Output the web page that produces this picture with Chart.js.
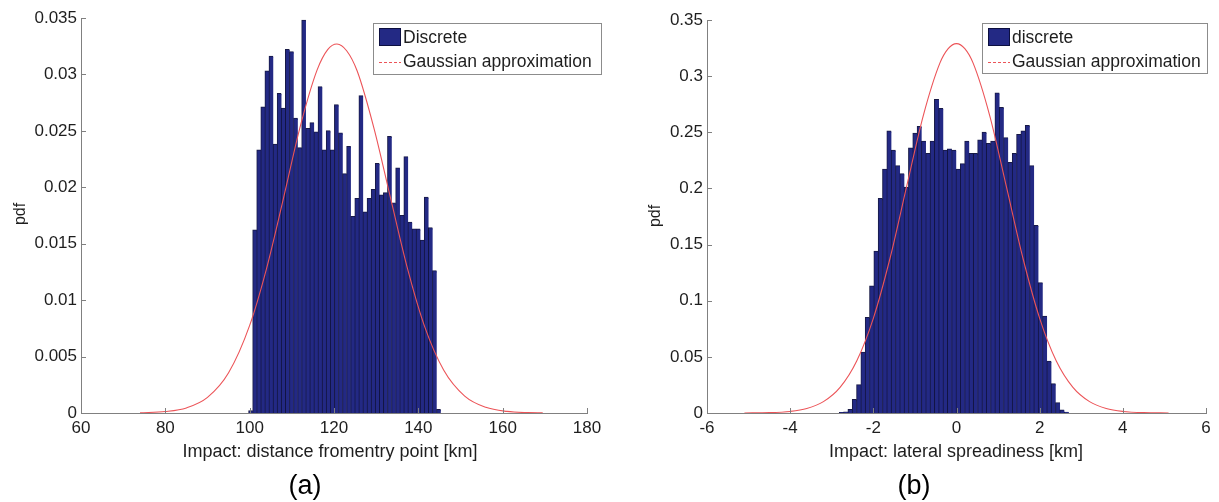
<!DOCTYPE html>
<html>
<head>
<meta charset="utf-8">
<script src="https://cdn.jsdelivr.net/npm/chart.js@4.4.1/dist/chart.umd.min.js"></script>
<style>
  html, body { margin: 0; padding: 0; background: #fff; }
  #wrap { position: relative; width: 1219px; height: 502px; }
  #wrap canvas { position: absolute; top: 0; }
</style>
</head>
<body>
<div id="wrap">
  <canvas id="distChart" width="609" height="502" style="left:0"></canvas>
  <canvas id="lateralChart" width="610" height="502" style="left:609px"></canvas>
</div>
<script>
// ---- (a) impact: distance from entry point ----
const distBins = [100.28, 101.25, 102.21, 103.18, 104.15, 105.12, 106.09, 107.06, 108.03, 109.00,
    109.97, 110.94, 111.91, 112.87, 113.84, 114.81, 115.78, 116.75, 117.72, 118.69,
    119.66, 120.63, 121.60, 122.56, 123.53, 124.50, 125.47, 126.44, 127.41, 128.38,
    129.35, 130.32, 131.29, 132.25, 133.22, 134.19, 135.16, 136.13, 137.10, 138.07,
    139.04, 140.01, 140.98, 141.94, 142.91, 143.88, 144.85];
const distPdf = [0.0002, 0.0162, 0.0233, 0.0271, 0.0303, 0.0316, 0.0238, 0.0283, 0.0270, 0.0322,
    0.0320, 0.0261, 0.0235, 0.0348, 0.0252, 0.0257, 0.0249, 0.0289, 0.0233, 0.0250,
    0.0233, 0.0273, 0.0248, 0.0212, 0.0236, 0.0174, 0.0190, 0.0281, 0.0178, 0.0190,
    0.0198, 0.0221, 0.0193, 0.0195, 0.0245, 0.0186, 0.0217, 0.0175, 0.0227, 0.0169,
    0.0163, 0.0163, 0.0153, 0.0191, 0.0164, 0.0126, 0.0003];
const distFitX = [74, 80, 85, 90, 95, 100, 104, 108, 112, 116, 118.5, 120.7,
    123, 125.5, 129.5, 133.5, 137.5, 141.5, 146, 151, 156, 161, 166, 169.5];
const distFitY = [0.00002, 0.00013, 0.00045, 0.00138, 0.00356, 0.00776, 0.0128, 0.0190,
    0.0254, 0.0304, 0.0322, 0.0327, 0.0321, 0.0303, 0.0252, 0.0189, 0.0127, 0.00765,
    0.00381, 0.0015, 0.0005, 0.00014, 0.00003, 0.00001];
const distTicks = [60, 80, 100, 120, 140, 160, 180];
const distPdfTicks = [0, 0.005, 0.01, 0.015, 0.02, 0.025, 0.03, 0.035];

// ---- (b) impact: lateral spreadiness ----
const latBins = [-2.762, -2.658, -2.554, -2.450, -2.346, -2.242, -2.138, -2.034, -1.930, -1.826,
    -1.722, -1.618, -1.514, -1.410, -1.306, -1.202, -1.098, -0.994, -0.890, -0.786,
    -0.682, -0.578, -0.474, -0.370, -0.266, -0.162, -0.058, 0.046, 0.150, 0.254,
    0.358, 0.462, 0.566, 0.670, 0.774, 0.878, 0.982, 1.086, 1.190, 1.294,
    1.398, 1.502, 1.606, 1.710, 1.814, 1.918, 2.022, 2.126, 2.230, 2.334,
    2.438, 2.542, 2.646];
const latPdf = [0.0003, 0.0008, 0.003, 0.012, 0.025, 0.054, 0.085, 0.113, 0.144,
    0.191, 0.217, 0.251, 0.234, 0.220, 0.213, 0.201, 0.236, 0.249, 0.255,
    0.242, 0.231, 0.242, 0.279, 0.271, 0.234, 0.235, 0.234, 0.217, 0.222,
    0.242, 0.231, 0.231, 0.243, 0.250, 0.240, 0.242, 0.285, 0.272, 0.245,
    0.223, 0.231, 0.248, 0.251, 0.256, 0.220, 0.167,
    0.116, 0.086, 0.046, 0.026, 0.009, 0.0025, 0.0005];
const latFitX = [-5.1, -4.5, -4.0, -3.6, -3.2, -2.8, -2.4, -2.0, -1.6, -1.2, -0.8, -0.4, -0.2, 0,
    0.2, 0.4, 0.8, 1.2, 1.6, 2.0, 2.4, 2.8, 3.2, 3.6, 4.0, 4.5, 5.1];
const latFitY = [0.00005, 0.0003, 0.0014, 0.0040, 0.0101, 0.0228, 0.0463, 0.0843, 0.1376, 0.2015,
    0.2647, 0.3116, 0.3245, 0.329, 0.3245, 0.3116, 0.2647, 0.2015, 0.1376, 0.0843,
    0.0463, 0.0228, 0.0101, 0.0040, 0.0014, 0.0003, 0.00005];
const latTicks = [-6, -4, -2, 0, 2, 4, 6];
const latPdfTicks = [0, 0.05, 0.1, 0.15, 0.2, 0.25, 0.3, 0.35];

const fontFamily = '"Liberation Sans", Arial, Helvetica, sans-serif';
const barFill = 'rgb(35, 41, 132)';
const barEdge = 'rgba(12, 14, 60, 0.95)';
const fitColor = 'rgb(236, 84, 88)';
const axisColor = '#808080';
const textColor = '#1e1e1e';

Chart.defaults.font.family = fontFamily;

// MATLAB-style decorations: inward ticks, axis titles, panel label, boxed legend
const decorations = {
    id: 'decorations',
    afterDraw(chart, args, opts) {
        const ctx = chart.ctx;
        const xs = chart.scales.x, ys = chart.scales.y;
        const area = chart.chartArea;
        ctx.save();

        ctx.strokeStyle = axisColor;
        ctx.lineWidth = 1;
        ctx.beginPath();
        xs.ticks.forEach(t => {
            const px = Math.round(xs.getPixelForValue(t.value)) + 0.5;
            ctx.moveTo(px, area.bottom);
            ctx.lineTo(px, area.bottom - 5);
        });
        ys.ticks.forEach(t => {
            const py = Math.round(ys.getPixelForValue(t.value)) + 0.5;
            ctx.moveTo(area.left, py);
            ctx.lineTo(area.left + 5, py);
        });
        ctx.stroke();

        ctx.fillStyle = textColor;
        ctx.textAlign = 'center';
        ctx.textBaseline = 'middle';
        ctx.font = '18px ' + fontFamily;
        ctx.fillText(opts.xTitle.text, opts.xTitle.x, opts.xTitle.y);

        ctx.save();
        ctx.translate(opts.yTitle.x, opts.yTitle.y);
        ctx.rotate(-Math.PI / 2);
        ctx.font = '16px ' + fontFamily;
        ctx.fillText('pdf', 0, 0);
        ctx.restore();

        ctx.fillStyle = '#000';
        ctx.font = '27px ' + fontFamily;
        ctx.fillText(opts.panel.text, opts.panel.x, opts.panel.y);

        // legend box
        const lg = opts.legend;
        const ds = chart.data.datasets;
        ctx.fillStyle = '#fff';
        ctx.fillRect(lg.x, lg.y, lg.w, lg.h);
        ctx.strokeStyle = '#8c8c8c';
        ctx.strokeRect(lg.x + 0.5, lg.y + 0.5, lg.w, lg.h);

        ctx.fillStyle = barFill;
        ctx.fillRect(lg.x + 6, lg.y + 5, 22, 18);
        ctx.strokeStyle = barEdge;
        ctx.strokeRect(lg.x + 6.5, lg.y + 5.5, 21, 17);

        ctx.strokeStyle = fitColor;
        ctx.setLineDash([3, 2]);
        ctx.beginPath();
        ctx.moveTo(lg.x + 6, lg.y + 39.5);
        ctx.lineTo(lg.x + 28, lg.y + 39.5);
        ctx.stroke();
        ctx.setLineDash([]);

        ctx.fillStyle = textColor;
        ctx.textAlign = 'left';
        ctx.font = '17.5px ' + fontFamily;
        ctx.fillText(ds[0].label, lg.x + 30, lg.y + 15);
        ctx.fillText(ds[1].label, lg.x + 30, lg.y + 39);

        ctx.restore();
    }
};

function makeChart(canvasId, cfg) {
    const bars = cfg.bins.map((b, i) => ({ x: b, y: cfg.pdf[i] }));
    const fit = cfg.fitX.map((v, i) => ({ x: v, y: cfg.fitY[i] }));
    return new Chart(document.getElementById(canvasId), {
        type: 'bar',
        data: {
            datasets: [
                {
                    type: 'bar',
                    label: cfg.barLabel,
                    data: bars,
                    backgroundColor: barFill,
                    borderColor: barEdge,
                    borderWidth: { left: 1, top: 1, right: 0, bottom: 0 },
                    borderSkipped: false,
                    inflateAmount: 0.6,
                    barPercentage: 1,
                    categoryPercentage: 1,
                    order: 2
                },
                {
                    type: 'line',
                    label: 'Gaussian approximation',
                    data: fit,
                    borderColor: fitColor,
                    borderWidth: 1.1,
                    pointRadius: 0,
                    cubicInterpolationMode: 'monotone',
                    fill: false,
                    order: 1
                }
            ]
        },
        options: {
            responsive: false,
            animation: false,
            events: [],
            layout: { padding: { left: 0, top: cfg.top, right: cfg.right, bottom: 0 } },
            plugins: {
                legend: { display: false },
                tooltip: { enabled: false },
                decorations: cfg.deco
            },
            scales: {
                x: {
                    type: 'linear',
                    offset: false,
                    min: cfg.xTicks[0],
                    max: cfg.xTicks[cfg.xTicks.length - 1],
                    afterBuildTicks: s => { s.ticks = cfg.xTicks.map(v => ({ value: v })); },
                    afterFit: s => { s.height = cfg.xAxisHeight; },
                    grid: { display: false, drawTicks: false },
                    border: { display: true, color: axisColor, width: 1 },
                    ticks: {
                        autoSkip: false,
                        maxRotation: 0,
                        padding: 5,
                        color: textColor,
                        font: { size: 17 },
                        callback: v => String(v)
                    }
                },
                y: {
                    type: 'linear',
                    min: 0,
                    max: cfg.yTicks[cfg.yTicks.length - 1],
                    afterBuildTicks: s => { s.ticks = cfg.yTicks.map(v => ({ value: v })); },
                    afterFit: s => { s.width = cfg.yAxisWidth; },
                    grid: { display: false, drawTicks: false },
                    border: { display: true, color: axisColor, width: 1 },
                    ticks: {
                        padding: 4,
                        color: textColor,
                        font: { size: 17 },
                        callback: v => String(+v.toFixed(4))
                    }
                }
            }
        },
        plugins: [decorations]
    });
}

makeChart('distChart', {
    bins: distBins, pdf: distPdf, fitX: distFitX, fitY: distFitY,
    xTicks: distTicks, yTicks: distPdfTicks,
    barLabel: 'Discrete',
    top: 18, right: 22, yAxisWidth: 81, xAxisHeight: 89,
    deco: {
        xTitle: { text: 'Impact: distance fromentry point [km]', x: 330, y: 452 },
        yTitle: { x: 21, y: 214 },
        panel: { text: '(a)', x: 305, y: 487 },
        legend: { x: 373, y: 23, w: 228, h: 51 }
    }
});

makeChart('lateralChart', {
    bins: latBins, pdf: latPdf, fitX: latFitX, fitY: latFitY,
    xTicks: latTicks, yTicks: latPdfTicks,
    barLabel: 'discrete',
    top: 20, right: 13, yAxisWidth: 98, xAxisHeight: 89,
    deco: {
        xTitle: { text: 'Impact: lateral spreadiness [km]', x: 347, y: 452 },
        yTitle: { x: 47, y: 216 },
        panel: { text: '(b)', x: 305, y: 487 },
        legend: { x: 373, y: 23, w: 225, h: 50 }
    }
});
</script>
</body>
</html>
